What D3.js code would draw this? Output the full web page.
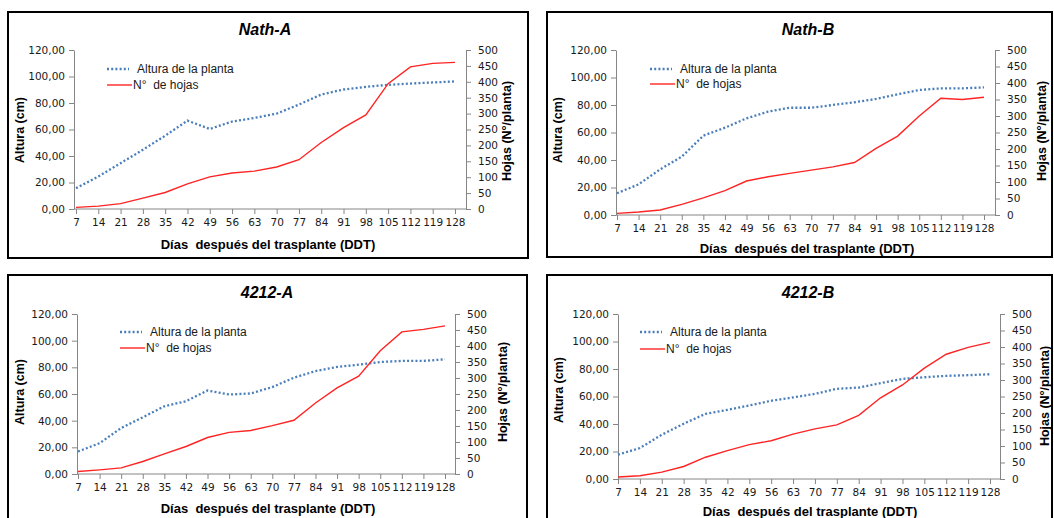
<!DOCTYPE html>
<html>
<head>
<meta charset="utf-8">
<script src="https://cdn.jsdelivr.net/npm/d3@7"></script>
<style>
  html, body { margin: 0; padding: 0; background: #fff; }
  svg { display: block; }
</style>
</head>
<body>
<svg id="chart" width="1054" height="518"></svg>
<script>
// ---------- DATA ----------
const days = [7, 14, 21, 28, 35, 42, 49, 56, 63, 70, 77, 84, 91, 98, 105, 112, 119, 128];
const alturaTicks = [0, 20, 40, 60, 80, 100, 120];
const hojasTicks = [0, 50, 100, 150, 200, 250, 300, 350, 400, 450, 500];

const panelTitles = ["Nath-A", "Nath-B", "4212-A", "4212-B"];
const seriesNames = ["Altura de la planta", "N°  de hojas"];
const xTitle = "Días  después del trasplante (DDT)";
const yLeftTitle = "Altura (cm)";
const yRightTitle = "Hojas (N°/planta)";

const alturaNathA = [15.7, 24.5, 34.6, 44.7, 55.3, 66.7, 60.4, 66.0, 68.7, 72.0, 78.8, 86.4, 90.2, 92.2, 93.7, 94.7, 95.5, 96.3];
const hojasNathA  = [5, 9, 17, 34, 52, 79, 101, 113, 119, 132, 155, 209, 256, 296, 394, 447, 458, 461];

const alturaNathB = [15.8, 22.3, 33.2, 42.4, 57.7, 63.5, 70.3, 75.2, 78.0, 78.0, 80.0, 82.0, 84.4, 87.8, 90.9, 92.1, 92.1, 92.8];
const hojasNathB  = [5, 9, 15, 32, 52, 74, 103, 116, 126, 136, 146, 159, 202, 239, 300, 354, 350, 357];

const altura4212A = [16.9, 23.1, 34.5, 42.5, 50.8, 54.6, 62.6, 59.6, 60.4, 65.2, 72.2, 77.2, 80.3, 82.0, 84.0, 84.8, 84.8, 86.0];
const hojas4212A  = [8, 13, 19, 39, 63, 86, 114, 130, 136, 151, 168, 222, 269, 306, 385, 444, 452, 463];

const altura4212B = [17.7, 22.5, 32.2, 40.2, 47.4, 50.3, 53.5, 56.9, 59.3, 61.9, 65.6, 66.5, 69.7, 72.8, 74.0, 75.0, 75.5, 76.2];
const hojas4212B  = [6, 10, 21, 38, 66, 86, 104, 116, 136, 152, 164, 193, 246, 285, 336, 378, 399, 414];

// ---------- LAYOUT (per panel) ----------
const layouts = [
  { box:[8,12,520,246],  axL:74,  x0:76,  x1:455, axR:466, yb:209, yt:50,  title:[265,35], xt:[268,249], yl:[20,130], yr:[507,131], leg:[107,69,85] },
  { box:[547,12,505,245], axL:616, x0:617, x1:984, axR:995, yb:215, yt:50,  title:[808,35], xt:[807,253], yl:[558,130], yr:[1042,131], leg:[650,69,84] },
  { box:[8,275,519,260], axL:77,  x0:78,  x1:445, axR:455, yb:474, yt:314, title:[267,298], xt:[268,513], yl:[20,392], yr:[503,392], leg:[120,332,348] },
  { box:[547,275,505,260], axL:618, x0:618, x1:990, axR:1000, yb:479, yt:314, title:[808,298], xt:[810,516], yl:[559,390], yr:[1045,396], leg:[640,332,349] }
];
const alturaSeries = [alturaNathA, alturaNathB, altura4212A, altura4212B];
const hojasSeries = [hojasNathA, hojasNathB, hojas4212A, hojas4212B];

const AXIS = "#868686";
const BLUE = "#4a7ebb";
const RED = "#ff2424";
const TICKFONT = "DejaVu Sans";
const TEXTFONT = "Liberation Sans";

const svg = d3.select("#chart");

layouts.forEach((L, i) => {
  const g = svg.append("g");
  // panel border
  g.append("rect")
    .attr("x", L.box[0]).attr("y", L.box[1])
    .attr("width", L.box[2]).attr("height", L.box[3])
    .attr("fill", "#fff").attr("stroke", "#000").attr("stroke-width", 2);

  const x = d3.scalePoint().domain(days).range([L.x0, L.x1]);
  const yL = d3.scaleLinear().domain([0, 120]).range([L.yb, L.yt]);
  const yR = d3.scaleLinear().domain([0, 500]).range([L.yb, L.yt]);

  // left axis
  const gl = g.append("g").attr("transform", `translate(${L.axL},0)`)
    .call(d3.axisLeft(yL).tickValues(alturaTicks).tickSize(5).tickSizeOuter(0).tickPadding(4)
      .tickFormat(d => d.toFixed(2).replace(".", ",")));
  // right axis
  const gr = g.append("g").attr("transform", `translate(${L.axR},0)`)
    .call(d3.axisRight(yR).tickValues(hojasTicks).tickSize(5).tickSizeOuter(0).tickPadding(7)
      .tickFormat(d3.format("d")));
  // bottom axis
  const gb = g.append("g").attr("transform", `translate(0,${L.yb})`)
    .call(d3.axisBottom(x).tickSize(5).tickSizeOuter(0).tickPadding(5));
  gb.select(".domain").remove();
  g.append("line")
    .attr("x1", L.axL).attr("x2", L.axR).attr("y1", L.yb).attr("y2", L.yb)
    .attr("stroke", AXIS).attr("stroke-width", 1);

  [gl, gr, gb].forEach(a => {
    a.selectAll(".domain").attr("stroke", AXIS);
    a.selectAll(".tick line").attr("stroke", AXIS);
    a.selectAll(".tick text").attr("fill", "#1a1a1a")
      .style("font-family", TICKFONT).style("font-size", "10.5px");
  });

  // lines
  const lineL = d3.line().x((d, j) => x(days[j])).y(d => yL(d));
  const lineR = d3.line().x((d, j) => x(days[j])).y(d => yR(d));
  g.append("path").datum(alturaSeries[i]).attr("d", lineL)
    .attr("fill", "none").attr("stroke", BLUE).attr("stroke-width", 2.3)
    .attr("stroke-dasharray", "2,2.2");
  g.append("path").datum(hojasSeries[i]).attr("d", lineR)
    .attr("fill", "none").attr("stroke", RED).attr("stroke-width", 1.4);

  // title
  g.append("text").attr("x", L.title[0]).attr("y", L.title[1])
    .attr("text-anchor", "middle")
    .style("font-family", TEXTFONT).style("font-weight", "bold").style("font-style", "italic")
    .style("font-size", "16px").text(panelTitles[i]);
  // x title
  g.append("text").attr("x", L.xt[0]).attr("y", L.xt[1])
    .attr("text-anchor", "middle")
    .style("font-family", TEXTFONT).style("font-weight", "bold").style("font-size", "13px")
    .style("white-space", "pre")
    .text(xTitle);
  // y titles
  g.append("text").attr("transform", `translate(${L.yl[0]},${L.yl[1]}) rotate(-90)`)
    .attr("text-anchor", "middle").attr("dy", "0.35em")
    .style("font-family", TEXTFONT).style("font-weight", "bold").style("font-size", "12.5px")
    .text(yLeftTitle);
  g.append("text").attr("transform", `translate(${L.yr[0]},${L.yr[1]}) rotate(-90)`)
    .attr("text-anchor", "middle").attr("dy", "0.35em")
    .style("font-family", TEXTFONT).style("font-weight", "bold").style("font-size", "12.5px")
    .text(yRightTitle);

  // legend
  const lx = L.leg[0];
  g.append("line").attr("x1", lx).attr("x2", lx + 22).attr("y1", L.leg[1]).attr("y2", L.leg[1])
    .attr("stroke", BLUE).attr("stroke-width", 2.3).attr("stroke-dasharray", "2,2.2");
  g.append("text").attr("x", lx + 30).attr("y", L.leg[1]).attr("dy", "0.35em")
    .style("font-family", TEXTFONT).style("font-size", "12px").attr("fill", "#1a1a1a")
    .text(seriesNames[0]);
  g.append("line").attr("x1", lx).attr("x2", lx + 25).attr("y1", L.leg[2]).attr("y2", L.leg[2])
    .attr("stroke", RED).attr("stroke-width", 1.4);
  g.append("text").attr("x", lx + 26).attr("y", L.leg[2]).attr("dy", "0.35em")
    .style("font-family", TEXTFONT).style("font-size", "12px").attr("fill", "#1a1a1a")
    .style("white-space", "pre")
    .text(seriesNames[1]);
});
</script>
</body>
</html>
